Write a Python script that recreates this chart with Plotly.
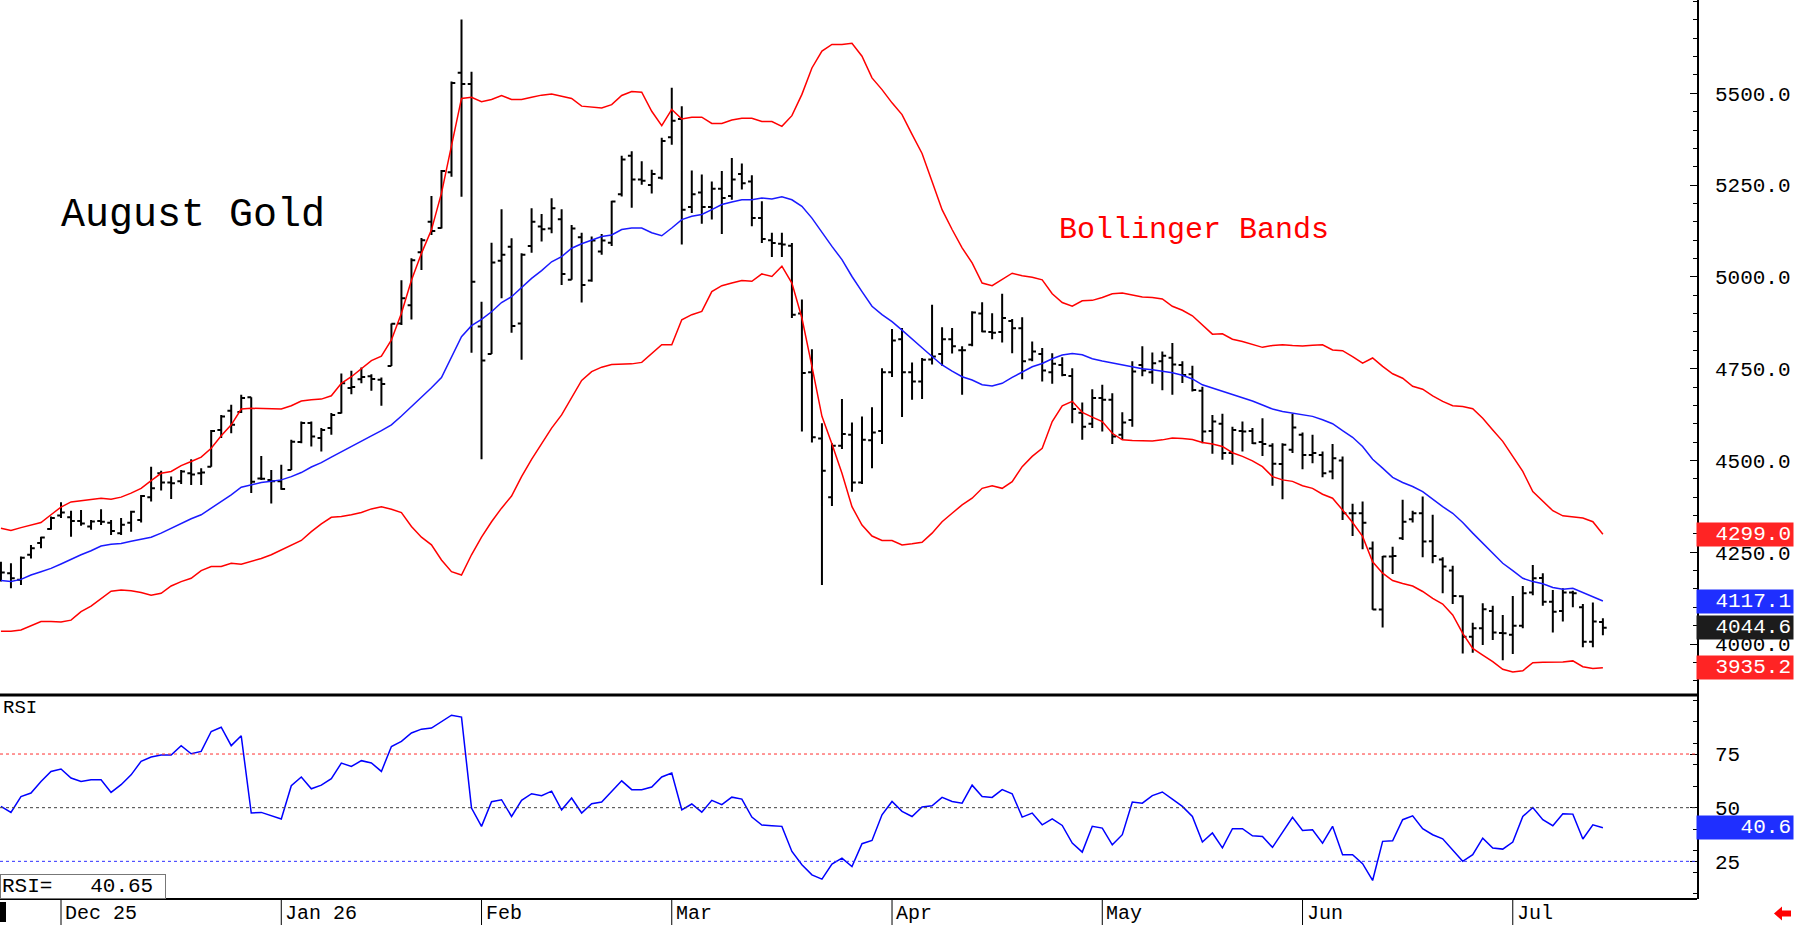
import plotly.graph_objects as go

# ---------------- data ----------------
month_labels = ["Dec 25", "Jan 26", "Feb", "Mar", "Apr", "May", "Jun", "Jul"]
month_start_bar = [6, 28, 48, 67, 89, 110, 130, 151]

open_ = [
    4205, 4193, 4175, 4243, 4275, 4313, 4350, 4345, 4335, 4320,
    4335, 4330, 4302, 4330, 4338, 4400, 4465, 4440, 4443, 4465,
    4465, 4483, 4583, 4635, 4632, 4672, 4451, 4447, 4443, 4474,
    4550, 4602, 4561, 4588, 4629, 4697, 4721, 4729, 4720, 4757,
    4873, 4923, 5067, 5150, 5133, 5285, 5556, 5525, 4865, 4790,
    5044, 5082, 4873, 5084, 5137, 5132, 5157, 4992, 5108, 4990,
    5069, 5093, 5225, 5330, 5265, 5250, 5270, 5380, 5430, 5190,
    5230, 5190, 5240, 5220, 5280, 5260, 5160, 5100, 5090, 5085,
    4900, 4740, 4560, 4400, 4540, 4570, 4440, 4555, 4580, 4740,
    4830, 4740, 4715, 4775, 4790, 4830, 4800, 4815, 4900, 4850,
    4850, 4880, 4860, 4775, 4790, 4740, 4760, 4730, 4630, 4600,
    4670, 4665, 4570, 4610, 4760, 4740, 4770, 4780, 4760, 4735,
    4690, 4580, 4600, 4520, 4580, 4580, 4550, 4540, 4490, 4529,
    4570, 4515, 4515, 4470, 4500, 4356, 4356, 4260, 4094, 4238,
    4288, 4340, 4356, 4280, 4230, 4200, 4130, 4020, 4043, 4090,
    4030, 4025, 4050, 4140, 4180, 4115, 4090, 4140, 4100, 4006,
    4060,
]
high = [
    4224, 4220, 4238, 4270, 4292, 4347, 4386, 4363, 4365, 4338,
    4367, 4338, 4343, 4363, 4406, 4483, 4472, 4456, 4474, 4503,
    4479, 4583, 4624, 4652, 4679, 4672, 4512, 4474, 4488, 4556,
    4606, 4606, 4588, 4629, 4737, 4744, 4753, 4735, 4726, 4873,
    4991, 5051, 5106, 5220, 5291, 5532, 5701, 5559, 4932, 5093,
    5184, 5105, 5064, 5187, 5171, 5214, 5184, 5141, 5120, 5110,
    5117, 5207, 5330, 5342, 5315, 5292, 5379, 5515, 5465, 5290,
    5279, 5260, 5288, 5324, 5309, 5277, 5206, 5120, 5120, 5092,
    4938, 4803, 4601, 4547, 4667, 4603, 4620, 4645, 4751, 4858,
    4861, 4767, 4779, 4924, 4863, 4861, 4811, 4906, 4931, 4901,
    4954, 4885, 4890, 4824, 4806, 4792, 4781, 4751, 4658, 4694,
    4706, 4683, 4631, 4770, 4811, 4794, 4797, 4820, 4770, 4758,
    4701, 4624, 4627, 4592, 4606, 4588, 4615, 4547, 4547, 4627,
    4576, 4570, 4524, 4545, 4511, 4382, 4388, 4279, 4240, 4265,
    4393, 4363, 4402, 4352, 4236, 4213, 4133, 4058, 4111, 4104,
    4079, 4131, 4158, 4215, 4193, 4147, 4152, 4145, 4109, 4113,
    4070,
]
low = [
    4170, 4152, 4161, 4233, 4261, 4311, 4343, 4292, 4322, 4311,
    4324, 4297, 4297, 4306, 4331, 4388, 4418, 4395, 4436, 4433,
    4433, 4483, 4561, 4574, 4629, 4411, 4447, 4383, 4420, 4474,
    4547, 4538, 4524, 4570, 4628, 4680, 4710, 4690, 4649, 4757,
    4869, 4884, 5019, 5114, 5132, 5273, 5218, 4793, 4503, 4790,
    4942, 4848, 4774, 5066, 5096, 5119, 4978, 4992, 4930, 4987,
    5060, 5084, 5219, 5188, 5251, 5227, 5265, 5360, 5088, 5174,
    5145, 5156, 5117, 5210, 5238, 5138, 5092, 5054, 5054, 4888,
    4579, 4549, 4161, 4376, 4531, 4415, 4436, 4479, 4545, 4727,
    4618, 4665, 4667, 4761, 4758, 4791, 4679, 4811, 4849, 4830,
    4821, 4792, 4721, 4770, 4715, 4709, 4729, 4601, 4556, 4588,
    4579, 4545, 4558, 4592, 4729, 4709, 4691, 4679, 4711, 4688,
    4547, 4518, 4502, 4488, 4524, 4545, 4512, 4431, 4394, 4520,
    4476, 4492, 4454, 4449, 4338, 4294, 4258, 4093, 4045, 4191,
    4283, 4331, 4236, 4220, 4138, 4109, 3974, 3976, 3997, 4011,
    3956, 3973, 4043, 4133, 4104, 4031, 4061, 4100, 3991, 3991,
    4024,
]
close = [
    4195, 4179, 4235, 4261, 4290, 4343, 4358, 4335, 4328, 4334,
    4333, 4308, 4325, 4360, 4403, 4424, 4440, 4438, 4470, 4462,
    4467, 4580, 4620, 4597, 4670, 4442, 4450, 4443, 4422, 4551,
    4602, 4565, 4583, 4624, 4710, 4700, 4727, 4722, 4708, 4872,
    4942, 5045, 5100, 5125, 5288, 5528, 5525, 4987, 4772, 5039,
    5060, 4866, 5060, 5150, 5130, 5187, 5008, 5132, 4978, 5099,
    5099, 5205, 5320, 5265, 5262, 5280, 5370, 5425, 5183, 5225,
    5190, 5240, 5215, 5265, 5255, 5160, 5103, 5092, 5088, 4897,
    4738, 4563, 4472, 4540, 4572, 4440, 4556, 4576, 4740, 4827,
    4740, 4715, 4774, 4783, 4830, 4811, 4800, 4903, 4851, 4848,
    4888, 4860, 4770, 4797, 4745, 4763, 4733, 4640, 4592, 4670,
    4665, 4565, 4603, 4742, 4745, 4765, 4785, 4761, 4733, 4692,
    4579, 4606, 4520, 4583, 4579, 4547, 4545, 4491, 4543, 4590,
    4515, 4520, 4465, 4506, 4356, 4356, 4330, 4094, 4238, 4240,
    4333, 4356, 4279, 4240, 4211, 4131, 4020, 4043, 4095, 4031,
    4029, 4050, 4138, 4179, 4115, 4088, 4140, 4138, 4006, 4061,
    4044.6,
]

bb_upper = [
    4315, 4309, 4317, 4323, 4331, 4352, 4373, 4387, 4390, 4394,
    4397, 4394, 4400, 4411, 4424, 4445, 4465, 4470, 4486, 4497,
    4509, 4533, 4567, 4597, 4640, 4642, 4642, 4642, 4640, 4649,
    4662, 4665, 4667, 4676, 4710, 4728, 4751, 4772, 4784, 4828,
    4901, 4991, 5064, 5128, 5228, 5355, 5486, 5489, 5477, 5483,
    5494, 5483, 5483, 5489, 5495, 5498, 5492, 5486, 5465, 5462,
    5460, 5469, 5494, 5505, 5503, 5451, 5412, 5456, 5430, 5435,
    5435, 5418, 5418, 5427, 5432, 5432, 5423, 5423, 5410, 5439,
    5497, 5569, 5615, 5633, 5633, 5636, 5601, 5542, 5510, 5474,
    5442, 5388, 5336, 5260, 5183, 5129, 5079, 5038, 4983, 4976,
    4994, 5010, 5003, 4999, 4992, 4954, 4930, 4920, 4935, 4936,
    4944, 4954, 4956, 4951, 4945, 4944, 4940, 4920, 4909, 4894,
    4870, 4844, 4845, 4830, 4824, 4817, 4808, 4813, 4815, 4813,
    4812, 4814, 4815, 4801, 4799, 4783, 4765, 4779, 4756, 4736,
    4724, 4702, 4694, 4676, 4661, 4649, 4647, 4641, 4615, 4583,
    4552, 4511, 4470, 4415, 4388, 4363, 4349, 4347, 4343, 4333,
    4299.0,
]
bb_mid = [
    4173, 4170, 4176, 4188, 4197, 4206, 4218, 4231, 4243, 4254,
    4267, 4272, 4274, 4280, 4285, 4291, 4302, 4315, 4329, 4341,
    4352, 4370, 4388, 4406, 4427, 4433, 4440, 4443, 4447, 4456,
    4467, 4482, 4494, 4509, 4524, 4538, 4552, 4567, 4581, 4597,
    4621, 4646, 4672, 4698, 4726, 4782, 4837, 4867, 4884, 4905,
    4930, 4946, 4972, 4996, 5017, 5041, 5055, 5078, 5090, 5099,
    5110, 5114, 5129, 5133, 5133, 5120, 5112, 5133, 5156, 5165,
    5170, 5183, 5197, 5204, 5210, 5210, 5215, 5212, 5218, 5210,
    5192, 5160, 5120, 5083, 5047, 5001, 4960, 4920, 4897, 4878,
    4855, 4830, 4807, 4783, 4760, 4743, 4728, 4719, 4706, 4703,
    4710, 4726, 4741, 4755, 4764, 4777, 4787, 4791, 4788, 4777,
    4771, 4766, 4759, 4754, 4750, 4747, 4744, 4739, 4732, 4722,
    4706, 4697, 4688, 4679, 4672, 4662, 4651, 4640, 4633, 4629,
    4624, 4620, 4611, 4600, 4581, 4563, 4538, 4503, 4479, 4454,
    4440, 4429, 4415, 4394, 4374, 4356, 4331, 4302, 4274, 4247,
    4220, 4200, 4179, 4170, 4164, 4154, 4149, 4152, 4140, 4129,
    4117.1,
]
bb_lower = [
    4035, 4035, 4038, 4049, 4061, 4061, 4060, 4065, 4088, 4103,
    4123, 4144, 4147, 4145, 4140, 4133, 4138, 4158, 4170, 4179,
    4200, 4211, 4211, 4220, 4217, 4224, 4233, 4243, 4256, 4270,
    4282, 4306, 4327, 4345, 4347, 4352, 4358, 4368, 4374, 4367,
    4358, 4320, 4291, 4270, 4229, 4197, 4188, 4243, 4291, 4333,
    4370, 4403, 4456, 4503, 4545, 4588, 4624, 4670, 4718, 4742,
    4754, 4761, 4762, 4763, 4767, 4792, 4815, 4815, 4883, 4897,
    4906, 4960, 4976, 4983, 4990, 4988, 5008, 5001, 5029, 4983,
    4888, 4756, 4620, 4545, 4465, 4374, 4324, 4294, 4282, 4282,
    4270, 4273, 4277, 4302, 4333, 4356, 4379, 4397, 4424, 4431,
    4424, 4442, 4483, 4511, 4533, 4606, 4649, 4661, 4631, 4618,
    4606, 4574, 4556, 4554, 4553, 4553, 4556, 4561, 4560, 4557,
    4549, 4545, 4538, 4521, 4511, 4499, 4483, 4456, 4447, 4443,
    4431, 4424, 4408, 4397, 4365, 4331, 4293, 4224, 4193, 4173,
    4165, 4158, 4143, 4124, 4109, 4079, 4029, 3988, 3970, 3952,
    3931, 3924, 3927, 3949, 3950, 3950, 3951, 3954, 3938, 3933,
    3935.2,
]
rsi = [
    50.6, 47.8, 55.2, 56.8, 62.2, 66.9, 68.0, 63.8, 62.2, 63.0,
    63.0, 57.1, 60.7, 65.3, 71.6, 73.6, 74.5, 74.5, 78.9, 75.1,
    76.2, 85.5, 87.5, 78.9, 83.5, 47.5, 47.8, 46.2, 44.7, 60.2,
    64.3, 58.8, 60.5, 63.5, 70.8, 69.2, 71.9, 70.8, 66.9, 78.5,
    80.9, 84.8, 86.6, 87.1, 90.2, 93.1, 92.2, 49.8, 41.3, 52.8,
    53.7, 45.9, 53.4, 56.5, 55.6, 57.7, 49.0, 54.5, 47.5, 51.8,
    52.6, 57.6, 62.5, 58.4, 58.4, 59.6, 64.3, 66.1, 49.0, 51.7,
    47.9, 53.4, 51.4, 54.9, 54.0, 45.6, 41.9, 41.6, 41.3, 29.6,
    23.4, 18.7, 16.7, 23.7, 26.5, 22.6, 33.2, 34.7, 46.7, 52.9,
    48.3, 45.9, 50.3, 50.9, 54.8, 52.9, 52.1, 60.5, 55.2, 54.8,
    58.4, 56.5, 45.6, 47.5, 42.0, 44.8, 41.7, 33.5, 29.3, 41.3,
    40.5, 32.7, 37.4, 52.6, 52.1, 55.6, 57.3, 54.0, 50.6, 45.9,
    34.0, 38.2, 31.3, 40.2, 40.2, 36.9, 36.6, 31.5, 38.5, 45.5,
    39.4, 39.7, 33.5, 41.3, 28.1, 28.1, 23.9, 16.1, 34.3, 34.6,
    44.4, 46.2, 40.2, 37.4, 35.5, 30.4, 25.0, 28.1, 35.8, 31.2,
    30.7, 34.0, 45.9, 50.1, 44.4, 41.6, 47.2, 47.0, 35.4, 42.0,
    40.65,
]
price_ticks = [4000, 4250, 4500, 4750, 5000, 5250, 5500]
rsi_ticks = [25, 50, 75]

# ---------------- figure ----------------
W, H = 1794, 925
bars = list(range(len(close)))
MONO = "Liberation Mono"

AX_RIGHT = 1697 / W            # x of the right price axis line
Y_SPLIT = 1 - 695 / H          # border between price and RSI panels
Y_DATE = 26 / H                # top of the date band
X_RANGE = [-0.094, 169.4]

fig = go.Figure()
fig.add_trace(go.Ohlc(
    x=bars, open=open_, high=high, low=low, close=close,
    increasing=dict(line=dict(color="black", width=2)),
    decreasing=dict(line=dict(color="black", width=2)),
    tickwidth=0.38, hoverinfo="skip", xaxis="x", yaxis="y"))
fig.add_trace(go.Scatter(x=bars, y=bb_upper, mode="lines",
                         line=dict(color="#ff0000", width=1.5), xaxis="x", yaxis="y"))
fig.add_trace(go.Scatter(x=bars, y=bb_lower, mode="lines",
                         line=dict(color="#ff0000", width=1.5), xaxis="x", yaxis="y"))
fig.add_trace(go.Scatter(x=bars, y=bb_mid, mode="lines",
                         line=dict(color="#1a1aff", width=1.5), xaxis="x", yaxis="y"))
fig.add_trace(go.Scatter(x=bars, y=rsi, mode="lines",
                         line=dict(color="#0000ff", width=1.5), xaxis="x2", yaxis="y2"))

axis_common = dict(showgrid=False, zeroline=False)
fig.update_layout(
    width=W, height=H, margin=dict(l=0, r=0, t=0, b=0),
    paper_bgcolor="white", plot_bgcolor="white",
    showlegend=False, hovermode=False,
    xaxis=dict(domain=[0, AX_RIGHT], range=X_RANGE, anchor="y",
               showticklabels=False, ticks="", rangeslider=dict(visible=False), **axis_common),
    xaxis2=dict(domain=[0, AX_RIGHT], range=X_RANGE, anchor="y2",
                showticklabels=False, ticks="", **axis_common),
    yaxis=dict(domain=[Y_SPLIT, 1], range=[3861.1, 5754.1], anchor="x", side="right",
               tickvals=price_ticks, ticktext=[f"{v:.1f}" for v in price_ticks],
               ticks="inside", ticklen=7, tickcolor="black", tickwidth=1,
               minor=dict(dtick=50, ticks="inside", ticklen=4, tickcolor="black"),
               showline=True, linecolor="black", linewidth=1.5,
               ticklabelstandoff=12,
               tickfont=dict(family=MONO, size=21, color="black"), **axis_common),
    yaxis2=dict(domain=[Y_DATE, Y_SPLIT], range=[7.45, 102.5], anchor="x2", side="right",
                tickvals=rsi_ticks, ticktext=[str(v) for v in rsi_ticks],
                ticks="inside", ticklen=7, tickcolor="black", tickwidth=1,
                minor=dict(dtick=10, ticks="inside", ticklen=4, tickcolor="black"),
                showline=True, linecolor="black", linewidth=1.5,
                ticklabelstandoff=12,
                tickfont=dict(family=MONO, size=21, color="black"), **axis_common),
)

shapes = []
# panel borders
shapes.append(dict(type="line", xref="paper", yref="paper", x0=0, x1=AX_RIGHT,
                   y0=Y_SPLIT, y1=Y_SPLIT, line=dict(color="black", width=3)))
shapes.append(dict(type="line", xref="paper", yref="paper", x0=0, x1=AX_RIGHT,
                   y0=Y_DATE, y1=Y_DATE, line=dict(color="black", width=2)))
# RSI reference lines
for lvl, col in zip(rsi_ticks, ["#3030ff", "#404040", "#ff3030"]):
    shapes.append(dict(type="line", xref="x2 domain", yref="y2", x0=0, x1=1,
                       y0=lvl, y1=lvl, line=dict(color=col, width=1, dash="dot")))
# month separators in the date band
for b in month_start_bar:
    shapes.append(dict(type="line", xref="x2", yref="paper", x0=b, x1=b,
                       y0=0, y1=Y_DATE, line=dict(color="black", width=1)))
# small black marker bottom-left
shapes.append(dict(type="rect", xref="paper", yref="paper", x0=0, x1=6 / W,
                   y0=1 - 922 / H, y1=1 - 902 / H, fillcolor="black", line=dict(width=0)))
# red arrow bottom-right
def px(x, y):
    return f"{x / W:.5f},{1 - y / H:.5f}"
arrow = ("M " + px(1774, 913.5) + " L " + px(1782, 906.5) + " L " + px(1782, 910.5)
         + " L " + px(1791, 910.5) + " L " + px(1791, 916.5) + " L " + px(1782, 916.5)
         + " L " + px(1782, 920.5) + " Z")
shapes.append(dict(type="path", xref="paper", yref="paper", path=arrow,
                   fillcolor="#ff0000", line=dict(width=0)))
fig.update_layout(shapes=shapes)

ann = []
ann.append(dict(text="August Gold", xref="paper", yref="paper", x=59 / W, y=1 - 215 / H,
                xanchor="left", yanchor="middle", showarrow=False,
                font=dict(family=MONO, size=40, color="black")))
ann.append(dict(text="Bollinger Bands", xref="paper", yref="paper", x=1057 / W, y=1 - 230 / H,
                xanchor="left", yanchor="middle", showarrow=False,
                font=dict(family=MONO, size=30, color="#ff0000")))
ann.append(dict(text="RSI", xref="paper", yref="paper", x=1 / W, y=1 - 708 / H,
                xanchor="left", yanchor="middle", showarrow=False,
                font=dict(family=MONO, size=19, color="black")))
ann.append(dict(text=f"RSI=   {rsi[-1]:.2f}", xref="paper", yref="paper", x=0, y=1 - 886.5 / H,
                xanchor="left", yanchor="middle", showarrow=False, align="left",
                width=162, height=21, borderpad=1, bordercolor="#777777", borderwidth=1,
                bgcolor="white", font=dict(family=MONO, size=21, color="black")))
for b, lab in zip(month_start_bar, month_labels):
    ann.append(dict(text=lab, xref="x2", yref="paper", x=b, y=1 - 913 / H,
                    xanchor="left", yanchor="middle", xshift=2, showarrow=False,
                    font=dict(family=MONO, size=20, color="black")))
# last-value tags on the right
tags = [(bb_upper[-1], "#ff2424", "y"), (bb_mid[-1], "#1f2fff", "y"),
        (close[-1], "#1c1c1c", "y"), (bb_lower[-1], "#ff2424", "y"),
        (rsi[-1], "#1f2fff", "y2")]
for val, col, yr in tags:
    ann.append(dict(text=f"{val:.1f}", xref="paper", yref=yr, x=1, y=val,
                    xanchor="right", yanchor="middle", showarrow=False, align="right",
                    width=92, height=19, borderpad=2, bgcolor=col,
                    font=dict(family=MONO, size=21, color="white")))
fig.update_layout(annotations=ann)

fig.write_html("out.html", config={"displayModeBar": False})
